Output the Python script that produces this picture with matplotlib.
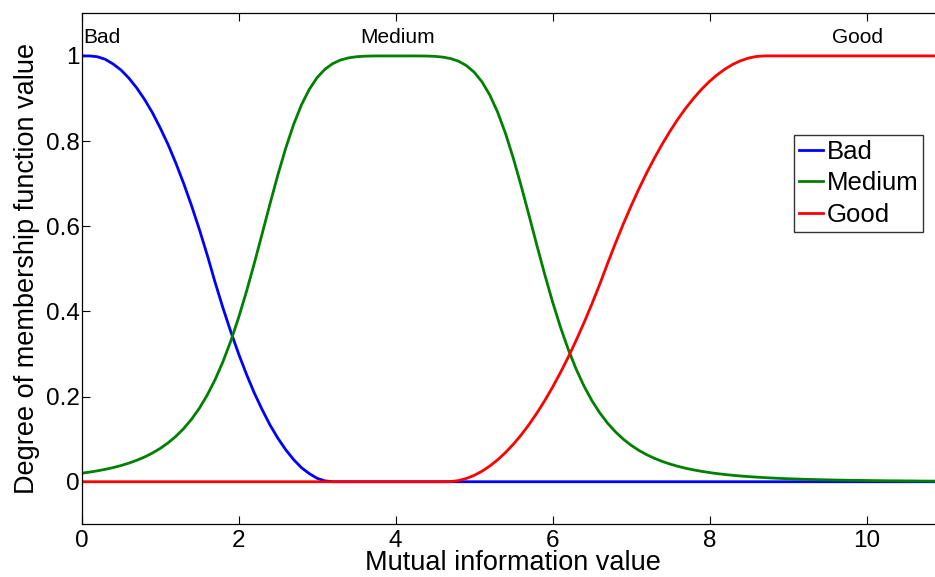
import matplotlib
matplotlib.use("Agg")
import matplotlib.pyplot as plt
from matplotlib.ticker import FuncFormatter

plt.rcParams['font.family'] = ['Liberation Sans', 'DejaVu Sans']

# sample points on the mutual information axis, 0 to 11 in steps of 0.1
mi_values = [i / 10 for i in range(111)]

# membership degree of each fuzzy set at those points
bad_degree = [1.000, 1.000, 0.998, 0.992, 0.981, 0.967, 0.948, 0.925, 0.898, 0.867,
              0.831, 0.792, 0.748, 0.700, 0.648, 0.592, 0.532, 0.468, 0.408, 0.352,
              0.300, 0.252, 0.208, 0.169, 0.133, 0.102, 0.075, 0.052, 0.033, 0.019,
              0.008, 0.002, 0.0] + [0.0] * 78

medium_degree = [0.0200, 0.0226, 0.0256, 0.0291, 0.0332, 0.0380, 0.0436, 0.0503, 0.0580, 0.0673,
                 0.0782, 0.0912, 0.1067, 0.1250, 0.1469, 0.1729, 0.2037, 0.2399, 0.2821, 0.3308,
                 0.3860, 0.4473, 0.5136, 0.5831, 0.6532, 0.7210, 0.7837, 0.8389, 0.8850, 0.9216,
                 0.9492, 0.9689, 0.9821, 0.9905, 0.9954, 0.9981, 0.9993, 0.9998, 1.0000, 1.0000,
                 1.0000, 1.0000, 1.0000, 0.9999, 0.9997, 0.9989, 0.9972, 0.9938, 0.9877, 0.9775,
                 0.9619, 0.9392, 0.9081, 0.8677, 0.8179, 0.7594, 0.6944, 0.6252, 0.5550, 0.4866,
                 0.4221, 0.3631, 0.3105, 0.2645, 0.2247, 0.1907, 0.1620, 0.1377, 0.1173, 0.1001,
                 0.0857, 0.0736, 0.0634, 0.0548, 0.0475, 0.0413, 0.0360, 0.0315, 0.0277, 0.0244,
                 0.0215, 0.0190, 0.0169, 0.0150, 0.0134, 0.0120, 0.0108, 0.0097, 0.0087, 0.0078,
                 0.0071, 0.0064, 0.0058, 0.0053, 0.0048, 0.0044, 0.0040, 0.0037, 0.0034, 0.0031,
                 0.0029, 0.0026, 0.0024, 0.0022, 0.0021, 0.0019, 0.0018, 0.0016, 0.0015, 0.0014,
                 0.0013]

good_degree = [0.0] * 47 + [
               0.0003, 0.0027, 0.0076, 0.0149, 0.0247, 0.0369, 0.0515, 0.0686, 0.0881, 0.1100,
               0.1344, 0.1613, 0.1905, 0.2222, 0.2564, 0.2929, 0.3320, 0.3734, 0.4173, 0.4636,
               0.5123, 0.5598, 0.6049, 0.6476, 0.6879, 0.7257, 0.7610, 0.7939, 0.8244, 0.8525,
               0.8781, 0.9012, 0.9220, 0.9403, 0.9561, 0.9695, 0.9805, 0.9890, 0.9951, 0.9988,
               ] + [1.0] * 24

set_names = ['Bad', 'Medium', 'Good']
set_colors = ['#0000ff', '#008000', '#ff0000']
# where each set name is written above its plateau
name_x = [0.02, 4.03, 9.89]
name_y = 1.03

x_ticks = [0, 2, 4, 6, 8, 10]
y_ticks = [0, 0.2, 0.4, 0.6, 0.8, 1.0]

fig = plt.figure(figsize=(9.35, 5.77), dpi=100)
# axes runs a little past the right edge of the figure
ax = fig.add_axes([0.0874, 0.0913, 0.9233, 0.8856])

for degree, name, color in zip([bad_degree, medium_degree, good_degree], set_names, set_colors):
    ax.plot(mi_values, degree, color=color, linewidth=2.0, label=name)

ax.set_xlim(0, 11)
ax.set_ylim(-0.1, 1.1)
ax.set_xticks(x_ticks)
ax.set_yticks(y_ticks)
ax.yaxis.set_major_formatter(FuncFormatter(lambda v, p: f"{v:g}"))
ax.tick_params(direction='in', top=True, right=True, length=5.8, width=0.8,
               labelsize=17.5)
ax.tick_params(axis='x', pad=4)
ax.tick_params(axis='y', pad=1.5)
for sp in ax.spines.values():
    sp.set_linewidth(0.9)

ax.set_xlabel("Mutual information value", fontsize=19.5, labelpad=-1)
ax.set_ylabel("Degree of membership function value", fontsize=19.5, labelpad=4)

for name, xpos in zip(set_names, name_x):
    ha = 'left' if name == 'Bad' else 'center'
    ax.text(xpos, name_y, name, fontsize=15, ha=ha, va='baseline')

leg = ax.legend(loc='upper left', bbox_to_anchor=(0.849, 0.766),
                bbox_transform=fig.transFigure, fontsize=18.5, frameon=True,
                fancybox=False, borderpad=0.2, labelspacing=0.28,
                handlelength=0.95, handletextpad=0.12, borderaxespad=0)
leg.get_frame().set_edgecolor('black')
leg.get_frame().set_linewidth(1.0)

fig.savefig("out.png", dpi=100, facecolor='white')
